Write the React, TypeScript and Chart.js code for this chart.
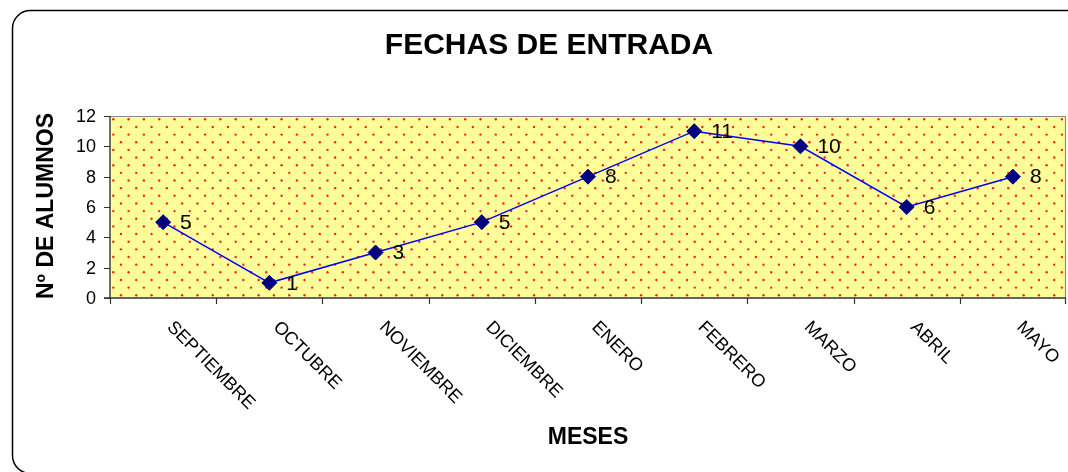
import React, { useEffect, useRef } from "react";
import { Chart, registerables } from "chart.js";

Chart.register(...registerables);

const TITLE = "FECHAS DE ENTRADA";
const Y_TITLE = "Nº DE ALUMNOS";
const X_TITLE = "MESES";
const MONTHS = [
  "SEPTIEMBRE",
  "OCTUBRE",
  "NOVIEMBRE",
  "DICIEMBRE",
  "ENERO",
  "FEBRERO",
  "MARZO",
  "ABRIL",
  "MAYO",
];
const STUDENTS = [5, 1, 3, 5, 8, 11, 10, 6, 8];
const Y_MIN = 0;
const Y_MAX = 12;
const Y_STEP = 2;

const FONT = '"Liberation Sans", Arial, sans-serif';

const decoPlugin = {
  id: "deco",
  beforeDatasetsDraw(chart: any) {
    const ctx = chart.ctx as CanvasRenderingContext2D;
    const { left, right, top, bottom } = chart.chartArea;
    ctx.save();
    ctx.strokeStyle = "#000";
    ctx.lineWidth = 1.5;
    ctx.beginPath();
    (ctx as any).roundRect(12.5, 10.5, 1080, 463, 18);
    ctx.stroke();

    ctx.fillStyle = "#FFFF99";
    ctx.fillRect(left, top, right - left, bottom - top);
    ctx.fillStyle = "#FF2020";
    const dx = 15.3;
    const dy = 7.65;
    let r = 0;
    for (let y = top + 3.3; y < bottom - 1; y += dy, r++) {
      const x0 = left + 3.3 + (r % 2 ? dx / 2 : 0);
      for (let x = x0; x < right - 1; x += dx) {
        ctx.beginPath();
        ctx.arc(x, y, 1.2, 0, Math.PI * 2);
        ctx.fill();
      }
    }
    ctx.strokeStyle = "#8a8a8a";
    ctx.lineWidth = 1.2;
    ctx.beginPath();
    ctx.moveTo(left, top + 0.5);
    ctx.lineTo(right - 0.5, top + 0.5);
    ctx.lineTo(right - 0.5, bottom);
    ctx.stroke();

    ctx.strokeStyle = "#333";
    ctx.lineWidth = 1.4;
    ctx.beginPath();
    ctx.moveTo(left, top);
    ctx.lineTo(left, bottom);
    ctx.moveTo(left - 6, bottom);
    ctx.lineTo(right, bottom);
    ctx.stroke();

    const ys = chart.scales.y;
    ctx.lineWidth = 1.2;
    ctx.beginPath();
    for (const t of ys.ticks) {
      const py = Math.round(ys.getPixelForValue(t.value)) + 0.5;
      ctx.moveTo(left - 6, py);
      ctx.lineTo(left, py);
    }
    const xs = chart.scales.x;
    const n = MONTHS.length;
    const step = xs.getPixelForValue(1) - xs.getPixelForValue(0);
    for (let i = 0; i <= n; i++) {
      const px = i < n ? xs.getPixelForValue(i) - step / 2 : xs.getPixelForValue(n - 1) + step / 2;
      const x = Math.min(Math.round(px) + 0.5, right - 0.5);
      ctx.moveTo(x, bottom);
      ctx.lineTo(x, bottom + 6);
    }
    ctx.stroke();
    ctx.restore();
  },
  afterDraw(chart: any) {
    const ctx = chart.ctx as CanvasRenderingContext2D;
    const { left, right } = chart.chartArea;
    const xs = chart.scales.x;
    const ys = chart.scales.y;
    ctx.save();
    ctx.fillStyle = "#000";

    ctx.font = `bold 30px ${FONT}`;
    ctx.textAlign = "center";
    ctx.textBaseline = "middle";
    ctx.fillText(TITLE, 549, 46);

    ctx.font = `bold 23px ${FONT}`;
    ctx.fillText(X_TITLE, (left + right) / 2, 438);

    ctx.save();
    ctx.translate(46, 206);
    ctx.rotate(-Math.PI / 2);
    ctx.fillText(Y_TITLE, 0, 1);
    ctx.restore();

    ctx.font = `18px ${FONT}`;
    ctx.textAlign = "right";
    ctx.textBaseline = "middle";
    for (const t of ys.ticks) {
      ctx.fillText(String(t.value), 96, ys.getPixelForValue(t.value) + 1);
    }

    ctx.font = `18px ${FONT}`;
    ctx.textAlign = "left";
    ctx.textBaseline = "top";
    MONTHS.forEach((m, i) => {
      const cx = xs.getPixelForValue(i);
      ctx.save();
      ctx.translate(cx + 13, 318);
      ctx.rotate(Math.PI / 4);
      ctx.fillText(m, 0, 0);
      ctx.restore();
    });

    ctx.font = `21px ${FONT}`;
    ctx.textAlign = "left";
    ctx.textBaseline = "middle";
    const meta = chart.getDatasetMeta(0);
    meta.data.forEach((pt: any, i: number) => {
      ctx.fillText(String(STUDENTS[i]), pt.x + 17, pt.y + 1);
    });
    ctx.restore();
  },
};

export default function App() {
  const ref = useRef<HTMLCanvasElement | null>(null);
  useEffect(() => {
    document.body.style.margin = "0";
    const canvas = ref.current!;
    const chart = new Chart(canvas, {
      type: "line",
      data: {
        labels: MONTHS,
        datasets: [
          {
            data: STUDENTS,
            borderColor: "#0000FF",
            borderWidth: 1.5,
            pointStyle: "rectRot",
            pointRadius: 7.5,
            pointHoverRadius: 7.5,
            pointBackgroundColor: "#000080",
            pointBorderColor: "#000080",
            pointBorderWidth: 1,
            tension: 0,
            fill: false,
          },
        ],
      },
      options: {
        responsive: false,
        animation: false,
        devicePixelRatio: 1,
        layout: {
          autoPadding: false,
          padding: { left: 110, right: 2, top: 116, bottom: 174 },
        },
        plugins: {
          legend: { display: false },
          tooltip: { enabled: false },
          title: { display: false },
        },
        scales: {
          x: { type: "category", offset: true, display: false },
          y: {
            type: "linear",
            min: Y_MIN,
            max: Y_MAX,
            ticks: { stepSize: Y_STEP },
            display: false,
          },
        },
      },
      plugins: [decoPlugin],
    });
    return () => chart.destroy();
  }, []);
  return (
    <div style={{ position: "absolute", left: 0, top: 0, width: 1068, height: 472, background: "#fff" }}>
      <canvas ref={ref} width={1068} height={472} style={{ width: 1068, height: 472, display: "block" }} />
    </div>
  );
}
